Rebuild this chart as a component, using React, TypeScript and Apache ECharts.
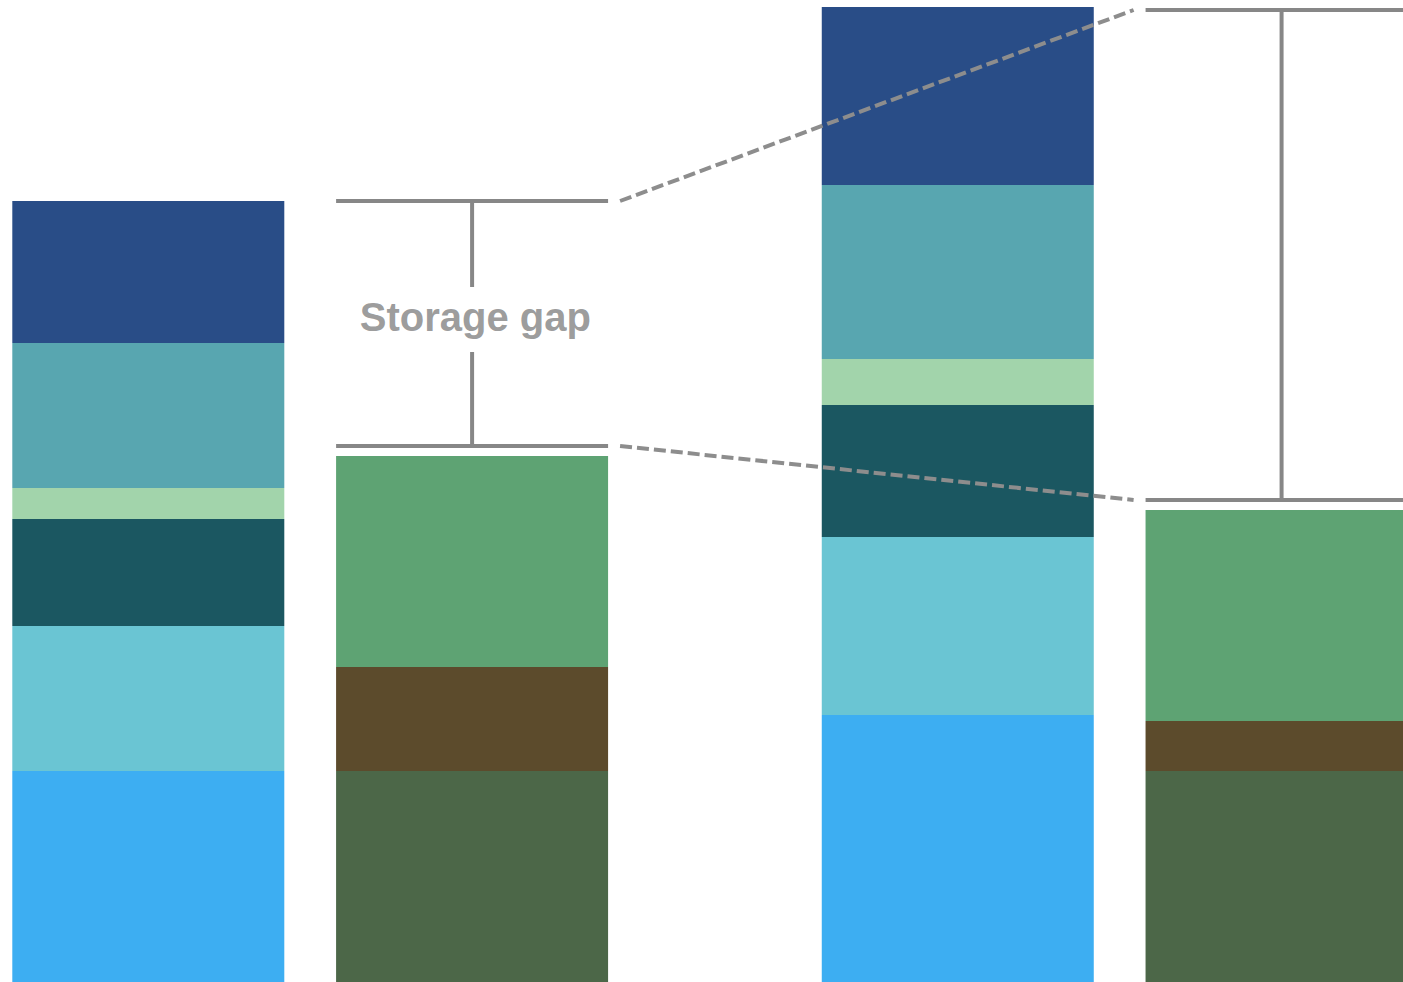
import React, { useEffect, useRef } from "react";
import * as echarts from "echarts";

// Category slots (half-step spacing); bars sit in slots 0, 2, 5 and 7
const slots = ["Supply A", "", "Storage A", "", "", "Supply B", "", "Storage B"];
const barSlots = [0, 2, 5, 7];

// Stacked segment values (bottom to top)
const layerNames = [
  "Layer 1",
  "Layer 2",
  "Layer 3",
  "Layer 4",
  "Layer 5",
  "Layer 6",
  "Storage 1",
  "Storage 2",
  "Storage 3",
];
const layer1 = [21.1, 0, 26.7, 0];
const layer2 = [14.5, 0, 17.8, 0];
const layer3 = [10.7, 0, 13.2, 0];
const layer4 = [3.1, 0, 4.6, 0];
const layer5 = [14.5, 0, 17.4, 0];
const layer6 = [14.2, 0, 17.8, 0];
const storage1 = [0, 21.1, 0, 21.1];
const storage2 = [0, 10.4, 0, 5.0];
const storage3 = [0, 21.1, 0, 21.1];

const layerColors = [
  "#3daef2",
  "#6ac5d3",
  "#1b5761",
  "#a2d4ab",
  "#58a6b0",
  "#294d87",
  "#4c6748",
  "#5c4b2c",
  "#5ea373",
];

// Gap brackets (positions on the annotation value axis: bar centres at 0, 1, 2.5, 3.5)
const bracketX = [1, 3.5];
const bracketTop = [78.1, 97.2];
const bracketBottom = [53.6, 48.2];
const bracketLabels = ["Storage gap", ""];

const Y_MAX = 98.2;
const X_MIN = -0.458;
const X_MAX = 3.875;
const BAR_HALF = 0.42;
const DASH_OFFSET = 0.457;
const LABEL_HALF_GAP = 3.25;

export default function App() {
  const ref = useRef<HTMLDivElement>(null);

  useEffect(() => {
    if (!ref.current) return;
    const chart = echarts.init(ref.current, undefined, { renderer: "svg" });

    const layers = [layer1, layer2, layer3, layer4, layer5, layer6, storage1, storage2, storage3];
    const barSeries = layers.map((vals, i) => {
      const data: any[] = slots.map(() => 0);
      vals.forEach((v, j) => {
        data[barSlots[j]] = v;
      });
      return {
        type: "bar",
        name: layerNames[i],
        stack: "total",
        barWidth: 272,
        xAxisIndex: 0,
        yAxisIndex: 0,
        data,
        clip: false,
        itemStyle: { color: layerColors[i] },
        silent: true,
        z: 2,
      };
    });

    const grey = "#878787";
    const lineSeries: any[] = [];
    const seg = (pts: number[][], dashed = false) => {
      lineSeries.push({
        type: "line",
        xAxisIndex: 1,
        yAxisIndex: 1,
        data: pts,
        symbol: "none",
        silent: true,
        clip: false,
        z: 5,
        lineStyle: {
          color: dashed ? "#8d8d8d" : grey,
          width: 4,
          type: dashed ? [12, 5] : "solid",
        },
      });
    };

    bracketX.forEach((bx, i) => {
      const top = bracketTop[i];
      const bot = bracketBottom[i];
      seg([[bx - BAR_HALF, top], [bx + BAR_HALF, top]]);
      seg([[bx - BAR_HALF, bot], [bx + BAR_HALF, bot]]);
      if (bracketLabels[i]) {
        const mid = (top + bot) / 2 + 0.4;
        seg([[bx, top], [bx, mid + LABEL_HALF_GAP]]);
        seg([[bx, mid - LABEL_HALF_GAP], [bx, bot]]);
        lineSeries.push({
          type: "scatter",
          xAxisIndex: 1,
          yAxisIndex: 1,
          data: [[bx + 0.01, mid + 0.25]],
          symbolSize: 1,
          itemStyle: { color: "rgba(0,0,0,0)" },
          silent: true,
          z: 6,
          label: {
            show: true,
            position: "inside",
            formatter: bracketLabels[i],
            fontSize: 40,
            fontWeight: "bold",
            fontFamily: "Liberation Sans, Arial, sans-serif",
            color: "#828282",
          },
        });
      } else {
        seg([[bx, top], [bx, bot]]);
      }
    });

    // dashed connectors between the two brackets
    seg(
      [
        [bracketX[0] + DASH_OFFSET, bracketTop[0]],
        [bracketX[1] - DASH_OFFSET, bracketTop[1]],
      ],
      true
    );
    seg(
      [
        [bracketX[0] + DASH_OFFSET, bracketBottom[0]],
        [bracketX[1] - DASH_OFFSET, bracketBottom[1]],
      ],
      true
    );

    chart.setOption({
      animation: false,
      backgroundColor: "#ffffff",
      grid: [
        { left: 67.35, right: 40.5, top: 0, bottom: 0, containLabel: false },
        { left: 0, right: 0, top: 0, bottom: 0, containLabel: false },
      ],
      xAxis: [
        {
          type: "category",
          gridIndex: 0,
          data: slots,
          boundaryGap: true,
          show: false,
        },
        {
          type: "value",
          gridIndex: 1,
          min: X_MIN,
          max: X_MAX,
          show: false,
        },
      ],
      yAxis: [
        { type: "value", gridIndex: 0, min: 0, max: Y_MAX, show: false },
        { type: "value", gridIndex: 1, min: 0, max: Y_MAX, show: false },
      ],
      series: [...barSeries, ...lineSeries],
    });

    return () => chart.dispose();
  }, []);

  return (
    <div
      ref={ref}
      style={{ position: "absolute", left: 0, top: 0, width: 1403, height: 982 }}
    />
  );
}
